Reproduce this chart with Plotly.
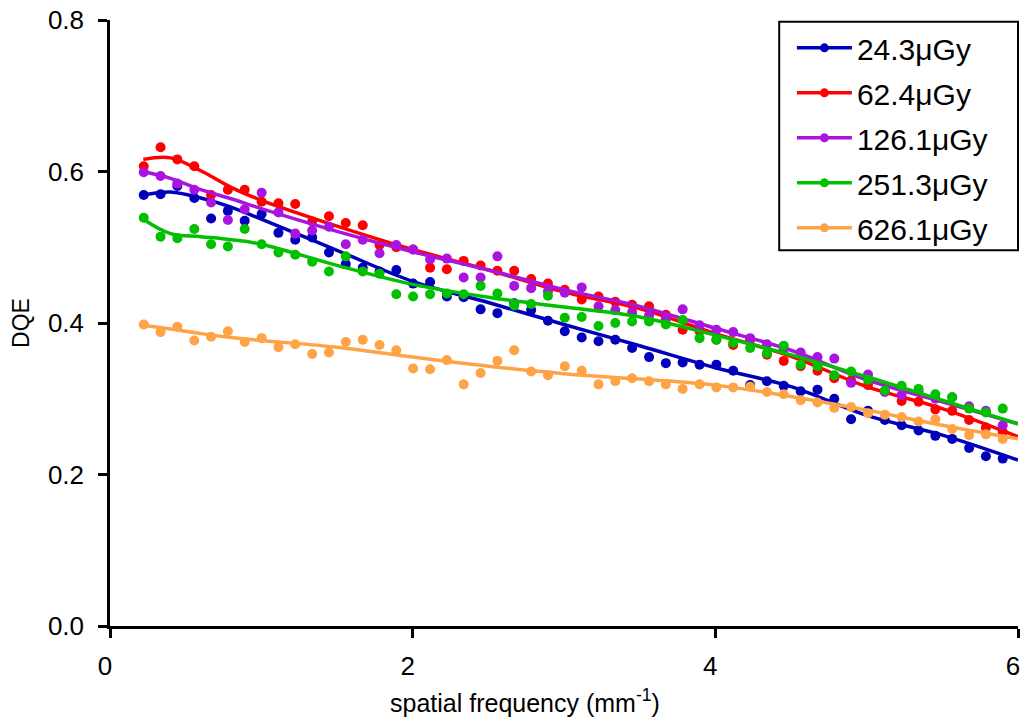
import plotly.graph_objects as go

freq = [0.223, 0.334, 0.445, 0.557, 0.668, 0.779, 0.890, 1.002, 1.113, 1.224,
        1.336, 1.447, 1.558, 1.670, 1.781, 1.892, 2.003, 2.115, 2.226, 2.337,
        2.449, 2.560, 2.671, 2.783, 2.894, 3.005, 3.117, 3.228, 3.339, 3.450,
        3.562, 3.673, 3.784, 3.896, 4.007, 4.118, 4.230, 4.341, 4.452, 4.564,
        4.675, 4.786, 4.897, 5.009, 5.120, 5.231, 5.343, 5.454, 5.565, 5.677,
        5.788, 5.899]

dqe_24 = [0.569, 0.570, 0.581, 0.565, 0.538, 0.548, 0.535, 0.544, 0.519, 0.510,
          0.513, 0.493, 0.478, 0.473, 0.468, 0.470, 0.452, 0.454, 0.435, 0.434,
          0.418, 0.413, 0.426, 0.417, 0.403, 0.389, 0.381, 0.376, 0.378, 0.367,
          0.355, 0.347, 0.348, 0.345, 0.345, 0.337, 0.318, 0.323, 0.317, 0.310,
          0.312, 0.300, 0.273, 0.284, 0.272, 0.265, 0.258, 0.251, 0.247, 0.235,
          0.224, 0.221]
dqe_62 = [0.607, 0.632, 0.616, 0.607, 0.569, 0.576, 0.576, 0.560, 0.558, 0.557,
          0.534, 0.541, 0.532, 0.529, 0.503, 0.500, 0.497, 0.473, 0.471, 0.482,
          0.476, 0.469, 0.469, 0.458, 0.452, 0.444, 0.431, 0.435, 0.428, 0.424,
          0.422, 0.411, 0.391, 0.389, 0.378, 0.371, 0.378, 0.358, 0.350, 0.343,
          0.337, 0.327, 0.324, 0.318, 0.310, 0.297, 0.296, 0.286, 0.284, 0.272,
          0.262, 0.256]
dqe_126 = [0.599, 0.594, 0.584, 0.576, 0.559, 0.536, 0.550, 0.572, 0.546, 0.518,
           0.522, 0.527, 0.504, 0.510, 0.492, 0.503, 0.497, 0.484, 0.485, 0.460,
           0.460, 0.488, 0.449, 0.446, 0.442, 0.440, 0.447, 0.422, 0.417, 0.414,
           0.410, 0.405, 0.418, 0.397, 0.391, 0.388, 0.380, 0.372, 0.366, 0.361,
           0.355, 0.353, 0.321, 0.332, 0.309, 0.305, 0.310, 0.300, 0.302, 0.290,
           0.284, 0.265]
dqe_251 = [0.539, 0.514, 0.512, 0.524, 0.504, 0.501, 0.524, 0.504, 0.493, 0.490,
           0.481, 0.468, 0.488, 0.468, 0.465, 0.438, 0.435, 0.438, 0.439, 0.438,
           0.449, 0.439, 0.423, 0.425, 0.436, 0.407, 0.408, 0.396, 0.400, 0.402,
           0.402, 0.398, 0.404, 0.380, 0.378, 0.374, 0.367, 0.360, 0.370, 0.345,
           0.343, 0.331, 0.336, 0.325, 0.311, 0.317, 0.313, 0.306, 0.302, 0.287,
           0.282, 0.287]
dqe_626 = [0.398, 0.388, 0.395, 0.377, 0.382, 0.389, 0.375, 0.380, 0.368, 0.372,
           0.359, 0.361, 0.375, 0.378, 0.371, 0.364, 0.340, 0.339, 0.351, 0.319,
           0.334, 0.350, 0.364, 0.336, 0.331, 0.343, 0.337, 0.319, 0.323, 0.327,
           0.323, 0.319, 0.313, 0.319, 0.315, 0.315, 0.316, 0.309, 0.306, 0.298,
           0.295, 0.288, 0.289, 0.281, 0.279, 0.276, 0.270, 0.273, 0.260, 0.252,
           0.253, 0.247]

fit_freq = [0.22, 0.4, 0.6, 0.8, 1.0, 1.5, 2.0, 2.5, 3.0, 3.5, 4.0, 4.5, 5.0, 5.5, 6.0]
fit_24 = [0.569, 0.573, 0.565, 0.553, 0.537, 0.496, 0.455, 0.427, 0.398, 0.370, 0.341, 0.316, 0.278, 0.252, 0.219]
fit_62 = [0.616, 0.618, 0.601, 0.579, 0.562, 0.528, 0.497, 0.470, 0.441, 0.419, 0.386, 0.356, 0.316, 0.287, 0.250]
fit_126 = [0.600, 0.591, 0.576, 0.564, 0.551, 0.521, 0.494, 0.470, 0.444, 0.422, 0.393, 0.364, 0.325, 0.296, 0.267]
fit_251 = [0.537, 0.518, 0.514, 0.510, 0.504, 0.476, 0.451, 0.434, 0.421, 0.408, 0.384, 0.358, 0.329, 0.298, 0.267]
fit_626 = [0.397, 0.392, 0.386, 0.381, 0.377, 0.368, 0.355, 0.343, 0.333, 0.326, 0.318, 0.303, 0.285, 0.265, 0.247]

labels = ["24.3μGy", "62.4μGy", "126.1μGy", "251.3μGy", "626.1μGy"]
colors = ["#0000BB", "#FF0000", "#AA14E0", "#00C000", "#FFA347"]
points = [dqe_24, dqe_62, dqe_126, dqe_251, dqe_626]
fits = [fit_24, fit_62, fit_126, fit_251, fit_626]

FONT = "Liberation Sans, Arial, Helvetica, sans-serif"

fig = go.Figure()
for lab, col, pts, ft in zip(labels, colors, points, fits):
    fig.add_trace(go.Scatter(
        x=freq, y=pts, mode="markers",
        marker=dict(color=col, size=10, line=dict(width=0)),
        showlegend=False, hoverinfo="x+y"))
    fig.add_trace(go.Scatter(
        x=fit_freq, y=ft, mode="lines",
        line=dict(color=col, width=3.5, shape="spline", smoothing=1.0),
        showlegend=False, hoverinfo="skip"))
    fig.add_trace(go.Scatter(
        x=[None], y=[None], mode="lines+markers", name=lab,
        line=dict(color=col, width=3.5), marker=dict(color=col, size=9),
        legendgroup=lab, showlegend=True))

fig.update_layout(
    width=1020, height=719,
    margin=dict(l=110, r=2, t=20, b=93),
    paper_bgcolor="white", plot_bgcolor="white",
    font=dict(family=FONT, color="black", size=22),
    legend=dict(
        x=0.751, y=0.997, xanchor="left", yanchor="top",
        bgcolor="rgba(0,0,0,0)", borderwidth=0,
        font=dict(size=30, family=FONT), tracegroupgap=3,
        itemwidth=55),
    shapes=[dict(
        type="rect", xref="paper", yref="paper",
        x0=0.737, x1=1.0, y0=0.620, y1=0.997,
        line=dict(color="black", width=2), fillcolor="white", layer="above")],
    xaxis=dict(
        range=[0, 6], tickvals=[0, 2, 4, 6], ticktext=["0", "2", "4", "6"],
        showline=True, linecolor="black", linewidth=2.5,
        ticks="outside", ticklen=9, tickwidth=2.5, tickcolor="black",
        showgrid=False, zeroline=False, automargin=False,
        tickfont=dict(size=26), ticklabelstandoff=6, ticklabelshift=-5,
        ticklabeloverflow="allow"),
    yaxis=dict(
        range=[0, 0.8], tickvals=[0, 0.2, 0.4, 0.6, 0.8],
        ticktext=["0.0", "0.2", "0.4", "0.6", "0.8"],
        showline=True, linecolor="black", linewidth=2.5,
        ticks="outside", ticklen=9, tickwidth=2.5, tickcolor="black",
        showgrid=False, zeroline=False, automargin=False,
        tickfont=dict(size=26), ticklabelstandoff=9,
        title=dict(text="DQE", font=dict(size=23), standoff=12)),
    annotations=[dict(
        text="spatial frequency (mm<sup>-1</sup>)",
        xref="paper", yref="paper", x=0.457, y=-0.124,
        xanchor="center", yanchor="middle", showarrow=False,
        font=dict(size=25, family=FONT, color="black"))],
)

fig.write_html("out.html")
